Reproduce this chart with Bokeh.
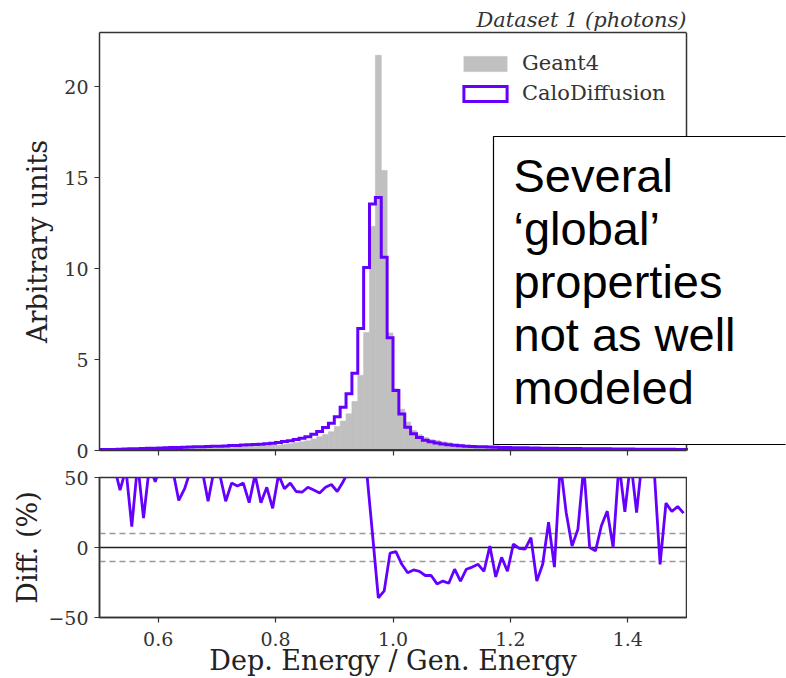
import numpy as np
from bokeh.plotting import figure
from bokeh.models import (Range1d, FixedTicker, Label, Legend, LegendItem, Span,
                          ColumnDataSource, LinearAxis, BoxAnnotation, Title)
from bokeh.layouts import column
from bokeh.embed import file_html
from bokeh.resources import INLINE

# ---------------- data ----------------
bin_edges = [round(0.50 + 0.01 * i, 2) for i in range(101)]

calodiffusion = [
    0.05, 0.05, 0.06, 0.07, 0.08, 0.09, 0.10, 0.11, 0.12, 0.13,
    0.14, 0.15, 0.16, 0.17, 0.18, 0.19, 0.20, 0.21, 0.22, 0.23,
    0.24, 0.25, 0.27, 0.28, 0.30, 0.31, 0.33, 0.35, 0.37, 0.40,
    0.44, 0.49, 0.54, 0.60, 0.67, 0.76, 0.89, 1.05, 1.26, 1.50,
    1.85, 2.38, 3.12, 4.25, 6.70, 10.05, 13.55, 13.90, 10.62, 6.20,
    3.30, 2.00, 1.28, 0.92, 0.72, 0.57, 0.48, 0.41, 0.36, 0.32,
    0.29, 0.26, 0.24, 0.22, 0.21, 0.20, 0.19, 0.18, 0.17, 0.16,
    0.155, 0.15, 0.145, 0.14, 0.135, 0.13, 0.125, 0.12, 0.115, 0.11,
    0.11, 0.105, 0.10, 0.10, 0.095, 0.09, 0.09, 0.085, 0.085, 0.08,
    0.08, 0.075, 0.075, 0.07, 0.07, 0.07, 0.065, 0.065, 0.06, 0.06,
]

geant4 = [
    0.030, 0.030, 0.038, 0.050, 0.051, 0.078, 0.063, 0.091, 0.076, 0.088,
    0.088, 0.091, 0.103, 0.127, 0.127, 0.123, 0.125, 0.135, 0.165, 0.148,
    0.158, 0.188, 0.185, 0.194, 0.205, 0.235, 0.217, 0.265, 0.259, 0.313,
    0.289, 0.345, 0.370, 0.429, 0.480, 0.531, 0.631, 0.755, 0.881, 1.034,
    1.321, 1.619, 2.013, 2.690, 4.136, 6.48, 12.32, 21.72, 15.39, 6.46,
    3.40, 2.27, 1.561, 1.095, 0.867, 0.713, 0.600, 0.554, 0.474, 0.430,
    0.343, 0.342, 0.284, 0.256, 0.239, 0.241, 0.188, 0.228, 0.183, 0.193,
    0.151, 0.151, 0.147, 0.131, 0.178, 0.148, 0.106, 0.140, 0.072, 0.088,
    0.109, 0.093, 0.063, 0.100, 0.097, 0.078, 0.071, 0.085, 0.053, 0.064,
    0.049, 0.060, 0.045, 0.044, 0.045, 0.080, 0.049, 0.052, 0.046, 0.048,
]

diff_pct = [
    float("nan"), float("nan"), 58, 41, 56, 15, 60, 21, 58, 47,
    60, 65, 55, 33.6, 42, 55, 60, 55, 33, 55,
    52, 33, 46, 44, 46, 32, 52, 32, 43, 28,
    52, 42, 46, 40, 39.5, 43, 41, 39, 43, 45,
    40, 47, 55, 58, 62, 55, 10, -36, -31, -4,
    -3, -12, -18, -16, -17, -20, -20, -26, -24, -25.5,
    -15.5, -24, -15.5, -14, -12, -17, 1, -21, -7, -17,
    2.4, -0.7, -1.2, 7, -24, -12, 18, -14, 60, 25,
    1, 13, 58, 0, -2.4, 15.5, 26, 0, 60, 25.5,
    62, 25, 65, 60, 55, -12, 31.7, 25.7, 29.3, 24.5,
]

x_ticks = [0.6, 0.8, 1.0, 1.2, 1.4]
x_tick_labels = ["0.6", "0.8", "1.0", "1.2", "1.4"]
y_ticks = [0, 5, 10, 15, 20]
y_tick_labels = ["0", "5", "10", "15", "20"]
diff_ticks = [-50, 0, 50]
diff_tick_labels = ["\u221250", "0", "50"]
diff_band = 10
series_names = ["Geant4", "CaloDiffusion"]
title_text = "Dataset 1 (photons)"
note_text = "Several\n\u2018global\u2019\nproperties\nnot as well\nmodeled"

# ---------------- style / layout constants ----------------
SERIF = "DejaVu Serif"
SANS = "Liberation Sans"
AXC = "#333333"
PURPLE = "#6500ff"
GRAY = "#c0c0c0"
W = 786
X0, X1 = 0.5, 1.5
FRAME_L = 99          # frame left (px)
FRAME_W = 587         # width of the 0.5..1.5 data span (px)
BORDER_R = 1
Y_TOP = 22.97
MAIN_H = 463
DIFF_H = 215


def style(fig):
    fig.grid.visible = False
    fig.background_fill_color = "white"
    fig.border_fill_color = "white"
    for ax in list(fig.xaxis) + list(fig.yaxis):
        ax.axis_line_color = AXC
        ax.axis_line_width = 1.5
        ax.major_tick_line_color = AXC
        ax.major_tick_line_width = 1.2
        ax.major_tick_out = 5
        ax.major_tick_in = 0
        ax.minor_tick_line_color = None
        ax.major_label_text_font = SERIF
        ax.major_label_text_font_size = "19px"
        ax.major_label_text_color = AXC
        ax.major_label_standoff = 6
        ax.axis_label_text_font = SERIF
        ax.axis_label_text_font_size = "27px"
        ax.axis_label_text_font_style = "normal"
        ax.axis_label_text_color = "#222222"
        ax.axis_label_standoff = 8


# ---------------- main histogram panel ----------------
# the frame runs to the right canvas edge so that the note box can overhang the axes
main_frame_w = W - FRAME_L - BORDER_R
x_end = X0 + main_frame_w / FRAME_W * (X1 - X0)
p = figure(width=W, height=MAIN_H, x_range=Range1d(X0, x_end), y_range=Range1d(0, Y_TOP),
           output_backend="svg", toolbar_location=None,
           min_border_left=FRAME_L, min_border_right=BORDER_R, min_border_top=32,
           min_border_bottom=MAIN_H - 450)
p.outline_line_color = None
style(p)
p.xaxis.ticker = FixedTicker(ticks=x_ticks)
p.xaxis.bounds = (X0, X1)
p.xaxis.major_label_overrides = {t: "" for t in x_ticks}
p.xaxis.major_label_standoff = 0
p.yaxis.ticker = FixedTicker(ticks=y_ticks)
p.yaxis.major_label_overrides = {t: s for t, s in zip(y_ticks, y_tick_labels)}
p.yaxis.axis_label = "Arbitrary units"

top_spine = LinearAxis(ticker=FixedTicker(ticks=[]), bounds=(X0, X1),
                       axis_line_color=AXC, axis_line_width=1.5,
                       major_tick_line_color=None, minor_tick_line_color=None,
                       major_label_standoff=0)
p.add_layout(top_spine, "above")

p.title = Title(text=title_text, align="right", offset=main_frame_w - FRAME_W,
                text_font=SERIF, text_font_style="italic", text_font_size="21px",
                text_color=AXC, standoff=2)

src = ColumnDataSource(dict(left=bin_edges[:-1], right=bin_edges[1:], g4=geant4))
g_r = p.quad(left="left", right="right", bottom=0, top="g4", source=src,
             fill_color=GRAY, line_color=GRAY, line_width=0.6)

# step outline of the CaloDiffusion histogram (as in a matplotlib 'step' histogram)
out_x, out_y = [bin_edges[0]], [0.0]
for lo, hi, v in zip(bin_edges[:-1], bin_edges[1:], calodiffusion):
    out_x += [lo, hi]
    out_y += [v, v]
out_x.append(bin_edges[-1])
out_y.append(0.0)
c_r = p.patch(x=out_x, y=out_y, fill_color=None, line_color=PURPLE, line_width=3,
              line_join="miter")

p.add_layout(Span(location=X1, dimension="height", line_color=AXC, line_width=1.5))

legend = Legend(items=[LegendItem(label=series_names[0], renderers=[g_r]),
                       LegendItem(label=series_names[1], renderers=[c_r])],
                location=(359, 345), padding=0, margin=0, spacing=6,
                glyph_width=54, glyph_height=19, label_standoff=10,
                label_text_font=SERIF, label_text_font_size="21px",
                label_text_color=AXC, border_line_color=None,
                background_fill_alpha=0)
p.add_layout(legend)

# note box (overhangs the right axis edge)
box_left = X0 + (493 - FRAME_L) / FRAME_W
box_top = (450 - 136) / 418 * Y_TOP
box_bottom = (450 - 444) / 418 * Y_TOP
p.add_layout(BoxAnnotation(left=box_left, right=x_end + 0.2, top=box_top, bottom=box_bottom,
                           fill_color="white", fill_alpha=1.0,
                           line_color="black", line_alpha=1.0, line_width=1.2))
p.add_layout(Label(x=414, y=302, x_units="screen", y_units="screen", text=note_text,
                   text_font=SANS, text_font_size="47px", text_color="black",
                   text_line_height=1.0, text_align="left", text_baseline="top"))

# ---------------- difference panel ----------------
centers = [(a + b) / 2 for a, b in zip(bin_edges[:-1], bin_edges[1:])]
d = figure(width=FRAME_L + FRAME_W + BORDER_R, height=DIFF_H, x_range=Range1d(X0, X1),
           y_range=Range1d(-50, 50), output_backend="svg", toolbar_location=None,
           min_border_left=FRAME_L, min_border_right=BORDER_R,
           min_border_top=477 - MAIN_H, min_border_bottom=DIFF_H - (477 - MAIN_H) - 140)
d.outline_line_color = AXC
d.outline_line_width = 1.5
style(d)
d.xaxis.ticker = FixedTicker(ticks=x_ticks)
d.xaxis.major_label_overrides = {t: s for t, s in zip(x_ticks, x_tick_labels)}
d.xaxis.axis_label = "Dep. Energy / Gen. Energy"
d.xaxis.major_label_standoff = 9
d.xaxis.axis_label_standoff = -4
d.yaxis.ticker = FixedTicker(ticks=diff_ticks)
d.yaxis.major_label_overrides = {t: s for t, s in zip(diff_ticks, diff_tick_labels)}
d.yaxis.axis_label = "Diff. (%)"
d.yaxis.axis_label_standoff = 2

for loc, col, dash in [(diff_band, "#999999", "6 4"), (-diff_band, "#999999", "6 4"),
                       (0, "#222222", "solid")]:
    d.add_layout(Span(location=loc, dimension="width", line_color=col,
                      line_width=1.5, line_dash=dash, level="underlay"))

d.line(x=centers, y=np.array(diff_pct, dtype=float), line_color=PURPLE, line_width=2.8)

layout = column(p, d, spacing=0)
open("out.html", "w").write(file_html(layout, INLINE))
